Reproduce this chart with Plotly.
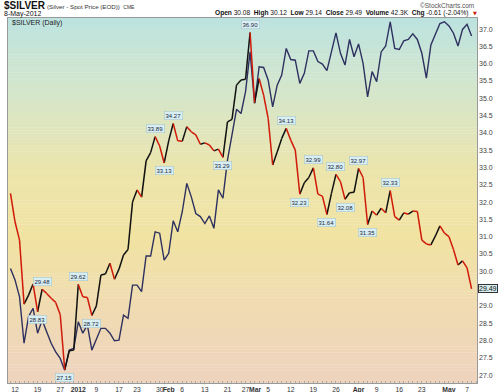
import plotly.graph_objects as go
import pandas as pd

# ---------------- data ----------------
holidays = ["2011-12-26", "2012-01-02", "2012-01-16", "2012-02-20", "2012-04-06"]
dates = [d for d in pd.bdate_range("2011-12-09", "2012-05-08")
         if d.strftime("%Y-%m-%d") not in holidays]

silver_close = [
    32.25, 31.43, 30.90, 29.05, 29.31, 29.63, 28.83, 29.48, 29.36, 29.22,
    29.10, 28.75, 27.15, 27.70, 27.72, 29.62, 29.26, 29.24, 28.72, 29.00,
    29.89, 29.92, 30.23, 29.77, 30.06, 30.47, 30.63, 32.00, 32.35, 32.14,
    33.19, 33.43, 33.89, 33.62, 33.13, 33.77, 34.27, 33.77, 33.76, 34.18,
    34.03, 33.94, 33.67, 33.71, 33.65, 33.48, 33.53, 33.29, 34.32, 34.39,
    35.38, 35.53, 35.55, 36.90, 34.87, 35.57, 35.09, 34.42, 33.07, 33.45,
    33.84, 34.13, 33.79, 33.50, 32.23, 32.56, 32.71, 32.99, 32.23, 32.17,
    31.64, 32.25, 32.80, 32.59, 32.08, 32.27, 32.28, 32.97, 32.71, 31.35,
    31.74, 31.62, 31.82, 31.69, 32.33, 31.58, 31.48, 31.69, 31.65, 31.74,
    31.73, 30.90, 30.79, 30.76, 31.02, 31.31, 31.10, 31.00, 30.63, 30.18,
    30.30, 30.10, 29.49,
]

compare_line = [
    30.08, 29.75, 29.26, 27.92, 28.69, 28.93, 28.21, 28.59, 28.25, 27.92,
    27.67, 27.48, 27.14, 27.72, 27.77, 28.54, 28.21, 28.45, 27.72, 28.01,
    28.35, 28.35, 28.21, 27.99, 28.01, 28.73, 28.64, 29.60, 29.60, 29.41,
    30.44, 30.44, 31.14, 31.10, 30.32, 30.52, 31.46, 31.14, 31.72, 32.54,
    32.15, 31.67, 31.58, 31.38, 31.60, 31.24, 32.35, 32.11, 33.21, 33.94,
    34.68, 34.56, 35.19, 36.34, 34.85, 35.91, 35.89, 35.53, 34.75, 35.38,
    35.67, 36.44, 36.12, 36.10, 35.43, 35.72, 36.37, 36.37, 36.06, 35.99,
    35.80, 36.34, 36.89, 36.30, 35.96, 36.70, 36.20, 36.57, 36.01, 35.04,
    35.77, 35.48, 36.34, 36.51, 37.21, 36.44, 36.41, 36.66, 36.70, 36.86,
    36.70, 36.30, 35.58, 36.54, 36.88, 37.16, 37.21, 37.09, 36.88, 36.51,
    36.99, 37.14, 36.80,
]

# pivot labels: (date, kind)
pivot_dates = ["2011-12-19", "2011-12-20", "2011-12-28", "2012-01-03", "2012-01-06",
               "2012-01-27", "2012-01-31", "2012-02-02", "2012-02-17", "2012-02-28",
               "2012-03-09", "2012-03-14", "2012-03-19", "2012-03-22", "2012-03-26",
               "2012-03-28", "2012-04-02", "2012-04-04", "2012-04-12"]
pivot_kind = ["low", "high", "low", "high", "low",
              "high", "low", "high", "low", "high",
              "high", "low", "high", "low", "high",
              "low", "high", "low", "high"]

tick_dates = ["2011-12-12", "2011-12-19", "2011-12-27", "2012-01-03", "2012-01-09",
              "2012-01-17", "2012-01-23", "2012-01-30", "2012-02-01", "2012-02-06",
              "2012-02-13", "2012-02-21", "2012-02-27", "2012-03-01", "2012-03-05",
              "2012-03-12", "2012-03-19", "2012-03-26", "2012-04-02", "2012-04-09",
              "2012-04-16", "2012-04-23", "2012-05-01", "2012-05-07"]
tick_text = ["12", "19", "27", "<b>2012</b>", "9", "17", "23", "30", "<b>Feb</b>", "6",
             "13", "21", "27", "<b>Mar</b>", "5", "12", "19", "26", "<b>Apr</b>", "9",
             "16", "23", "<b>May</b>", "7"]

y_ticks = [27.0, 27.5, 28.0, 28.5, 29.0, 30.0, 30.5, 31.0, 31.5,
           32.0, 32.5, 33.0, 33.5, 34.0, 34.5, 35.0, 35.5, 36.0, 36.5, 37.0]

# ---------------- helpers ----------------
date_str = [d.strftime("%Y-%m-%d") for d in dates]
pos = {s: i for i, s in enumerate(date_str)}
xs = list(range(len(dates)))

W, H = 500, 392
L, R, T, B = 8, 477, 18, 383
FONT = "Liberation Sans"


def px(xp):
    return (xp - L) / (R - L)


def py(yp):
    return (B - yp) / (B - T)


fig = go.Figure()

# gradient background bands
stops = [(0.0, (189, 227, 224)), (0.2, (212, 230, 203)), (0.42, (236, 229, 172)),
         (0.6, (241, 227, 162)), (0.8, (240, 219, 178)), (1.0, (238, 211, 190))]
NB = 120
shapes = []
for k in range(NB):
    f = (k + 0.5) / NB
    for j in range(len(stops) - 1):
        if stops[j][0] <= f <= stops[j + 1][0]:
            a, ca = stops[j]
            b, cb = stops[j + 1]
            t = (f - a) / (b - a)
            c = tuple(int(round(ca[m] + (cb[m] - ca[m]) * t)) for m in range(3))
            break
    shapes.append(dict(type="rect", xref="paper", yref="paper", layer="below",
                       x0=0, x1=1, y0=1 - (k + 1) / NB, y1=1 - k / NB + 0.001,
                       fillcolor="rgb(%d,%d,%d)" % c, line=dict(width=0)))

# comparison line (navy)
fig.add_trace(go.Scatter(x=xs, y=compare_line, mode="lines",
                         line=dict(color="#2e3160", width=1.4),
                         hoverinfo="skip", showlegend=False))

# price line coloured by direction
rx, ry, bx, by = [], [], [], []
for i in range(len(silver_close) - 1):
    seg_x = [xs[i], xs[i + 1], None]
    seg_y = [silver_close[i], silver_close[i + 1], None]
    if silver_close[i + 1] < silver_close[i]:
        rx += seg_x
        ry += seg_y
    else:
        bx += seg_x
        by += seg_y
fig.add_trace(go.Scatter(x=bx, y=by, mode="lines", line=dict(color="#111111", width=1.5),
                         hoverinfo="skip", showlegend=False))
fig.add_trace(go.Scatter(x=rx, y=ry, mode="lines", line=dict(color="#d01a0a", width=1.5),
                         hoverinfo="skip", showlegend=False))

ann = []
for d, k in zip(pivot_dates, pivot_kind):
    i = pos[d]
    ann.append(dict(x=i, y=silver_close[i], xref="x", yref="y",
                    text="%.2f" % silver_close[i], showarrow=False,
                    yshift=8 if k == "high" else -8,
                    font=dict(size=6, color="#1a2a40", family=FONT),
                    bgcolor="#d8eef2", bordercolor="#9fc0c8", borderwidth=0.5,
                    borderpad=1))

# y tick labels (right side)
for v in y_ticks:
    ann.append(dict(x=1, y=v, xref="paper", yref="y", xanchor="left", yanchor="middle",
                    text="%.1f" % v, showarrow=False, xshift=0,
                    font=dict(size=7, color="#444", family=FONT)))

# last value box
ann.append(dict(x=1, y=silver_close[-1], xref="paper", yref="y", xanchor="left",
                yanchor="middle", text="%.2f" % silver_close[-1], showarrow=False, xshift=1,
                font=dict(size=7, color="#111", family=FONT),
                bgcolor="#d5ecec", bordercolor="#333", borderwidth=1, borderpad=0))

ann += [
    dict(x=px(2), y=py(6), xref="paper", yref="paper", xanchor="left", yanchor="middle",
         text="<b>$SILVER</b>", showarrow=False,
         font=dict(size=10, color="#111", family=FONT)),
    dict(x=px(45), y=py(6.5), xref="paper", yref="paper", xanchor="left", yanchor="middle",
         text="(Silver - Spot Price (EOD))  <span style='font-size:5px'>CME</span>",
         showarrow=False, font=dict(size=6.2, color="#333", family=FONT)),
    dict(x=px(2), y=py(14), xref="paper", yref="paper", xanchor="left", yanchor="middle",
         text="8-May-2012", showarrow=False, font=dict(size=7, color="#111", family=FONT)),
    dict(x=px(476), y=py(5), xref="paper", yref="paper", xanchor="right", yanchor="middle",
         text="©StockCharts.com", showarrow=False, font=dict(size=6.5, color="#555", family=FONT)),
    dict(x=px(471), y=py(13.5), xref="paper", yref="paper", xanchor="right", yanchor="middle",
         text="<b>Open</b> 30.08  <b>High</b> 30.12  <b>Low</b> 29.14  <b>Close</b> 29.49  "
              "<b>Volume</b> 42.3K  <b>Chg</b> -0.61 (-2.04%)",
         showarrow=False, font=dict(size=6.6, color="#111", family=FONT)),
    dict(x=px(475), y=py(13.5), xref="paper", yref="paper", xanchor="center", yanchor="middle",
         text="▼", showarrow=False, font=dict(size=5, color="#d01a0a", family="DejaVu Sans")),
    dict(x=px(10), y=py(23), xref="paper", yref="paper", xanchor="left", yanchor="middle",
         text="$SILVER (Daily)", showarrow=False, font=dict(size=7, color="#222", family=FONT)),
]

# month labels sit slightly left of their first trading day
label_offset = {"<b>Mar</b>": -0.9}
tick_pos = [pos[d] + label_offset.get(t, 0) for d, t in zip(tick_dates, tick_text)]

fig.update_layout(
    width=W, height=H,
    margin=dict(l=L, r=W - R, t=T, b=H - B, pad=0),
    paper_bgcolor="white", plot_bgcolor="rgba(0,0,0,0)",
    shapes=shapes, annotations=ann, showlegend=False,
    xaxis=dict(range=[-0.55, 103.2], tickmode="array",
               tickvals=tick_pos, ticktext=tick_text,
               tickangle=0, automargin=False,
               showgrid=False, zeroline=False, ticks="", ticklen=0,
               tickfont=dict(size=6.8, color="#333", family=FONT),
               showline=True, linecolor="#9a9a9a", linewidth=1, mirror=True,
               minor=dict(tickmode="linear", dtick=1, ticks="inside", ticklen=2,
                          tickcolor="#aaa")),
    yaxis=dict(range=[26.77, 37.32], side="right", showticklabels=False,
               automargin=False, showgrid=False, zeroline=False, ticks="",
               showline=True, linecolor="#9a9a9a", linewidth=1, mirror=True),
)

fig.write_html("out.html", config={"displayModeBar": False},
               post_script="document.body.style.margin='0';"
                           "document.body.style.overflow='hidden';")
